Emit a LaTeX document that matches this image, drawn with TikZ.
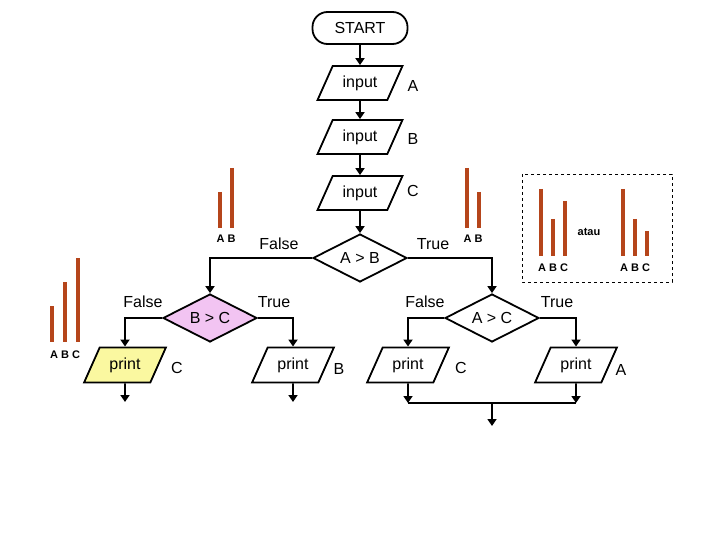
\documentclass[tikz,border=0pt]{standalone}
\usepackage{fontspec}
\setmainfont{Liberation Sans}
\usetikzlibrary{shapes.geometric,arrows.meta}
\definecolor{bar}{HTML}{B5451B}
\definecolor{pinkf}{HTML}{F2C4F2}
\definecolor{yell}{HTML}{FAF8A0}
\begin{document}
\begin{tikzpicture}[x=1pt,y=-1pt,
  line width=1.8pt,
  ar/.style={-{Triangle[length=7pt,width=9pt]}},
  io/.style={trapezium,trapezium left angle=66,trapezium right angle=114,draw,line width=1.8pt,minimum width=82pt,minimum height=34pt,inner xsep=0pt,font=\fontsize{16}{18}\selectfont},
  dec/.style={diamond,draw,line width=1.8pt,minimum width=94pt,minimum height=48pt,inner sep=0pt,aspect=2,font=\fontsize{16}{18}\selectfont},
  lab/.style={font=\fontsize{16}{18}\selectfont},
  sm/.style={font=\bfseries\fontsize{11}{12}\selectfont},
  br/.style={draw=bar,line width=4pt}]
\useasboundingbox (0,0) rectangle (720,540);
\node[draw,rounded corners=15pt,line width=1.8pt,minimum width=95pt,minimum height=32pt,font=\fontsize{16}{18}\selectfont] (start) at (360,28) {START};
\node[io] (ia) at (360,83) {input};
\node[io] (ib) at (360,137) {input};
\node[io] (ic) at (360,193) {input};
\node[lab] (la) at (413,86) {A};
\node[lab] (lb) at (413,139) {B};
\node[lab] (lc) at (413,191) {C};
\node[dec] (ab) at (360,258) {A > B};
\node[dec,fill=pinkf] (bc) at (210,318) {B > C};
\node[dec] (ac) at (492,318) {A > C};
\node[io,fill=yell] (p1) at (125,365) {print};
\node[io] (p2) at (293,365) {print};
\node[io] (p3) at (408,365) {print};
\node[io] (p4) at (576,365) {print};
\node[lab] (l1) at (177,368) {C};
\node[lab] (l2) at (339,369) {B};
\node[lab] (l3) at (461,368) {C};
\node[lab] (l4) at (621,370) {A};
\node[lab] (f1) at (279,244) {False};
\node[lab] (t1) at (433,244) {True};
\node[lab] (f2) at (143,302) {False};
\node[lab] (t2) at (274,302) {True};
\node[lab] (f3) at (425,302) {False};
\node[lab] (t3) at (557,302) {True};
\draw[ar] (start) -- (ia);
\draw[ar] (ia) -- (ib);
\draw[ar] (ib) -- (ic);
\draw[ar] (ic) -- (ab);
\draw[ar] (ab.west) -| (bc.north);
\draw[ar] (ab.east) -| (ac.north);
\draw[ar] (bc.west) -| (p1.north);
\draw[ar] (bc.east) -| (p2.north);
\draw[ar] (ac.west) -| (p3.north);
\draw[ar] (ac.east) -| (p4.north);
\coordinate (e1) at (125,402);
\coordinate (e2) at (293,402);
\coordinate (j3) at (408,403);
\coordinate (j4) at (576,403);
\coordinate (jm) at (492,403);
\coordinate (e3) at (492,426);
\draw[ar] (p1.south) -- (e1);
\draw[ar] (p2.south) -- (e2);
\draw[ar] (p3.south) -- (j3);
\draw[ar] (p4.south) -- (j4);
\draw (j3) -- (j4);
\draw[ar] (jm) -- (e3);
% bars
\draw[br] (220,192) -- (220,228); \draw[br] (232,168) -- (232,228);
\node[sm] (t_ab1) at (226,239) {A B};
\draw[br] (52,306) -- (52,342); \draw[br] (65,282) -- (65,342); \draw[br] (78,258) -- (78,342);
\node[sm] (t_abc1) at (65,355) {A B C};
\draw[br] (467,168) -- (467,228); \draw[br] (479,192) -- (479,228);
\node[sm] (t_ab2) at (473,239) {A B};
\draw[line width=0.8pt,dashed] (522,174) rectangle (672,282);
\draw[br] (541,189) -- (541,256); \draw[br] (553,219) -- (553,256); \draw[br] (565,201) -- (565,256);
\node[sm] (t_abc2) at (553,268) {A B C};
\node[font=\bfseries\fontsize{11}{12}\selectfont] (atau) at (589,232) {atau};
\draw[br] (623,189) -- (623,256); \draw[br] (635,219) -- (635,256); \draw[br] (647,231) -- (647,256);
\node[sm] (t_abc3) at (635,268) {A B C};
\end{tikzpicture}
\end{document}
